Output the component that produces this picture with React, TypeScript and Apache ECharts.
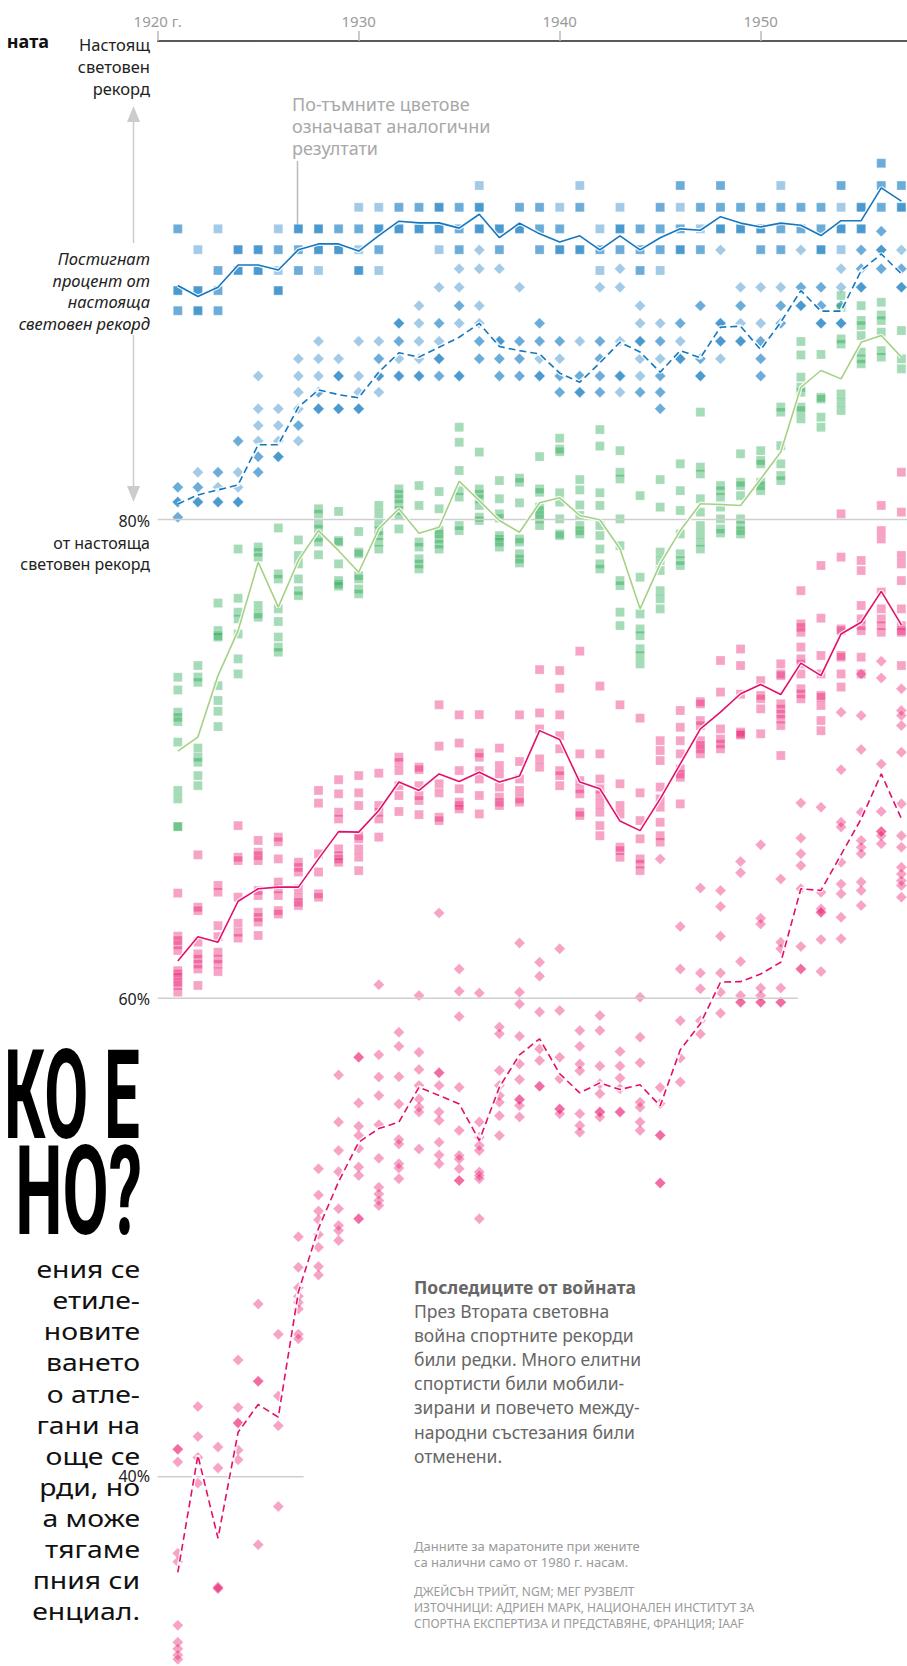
import React, { useEffect, useRef } from "react";
import * as echarts from "echarts";

const years = [1921, 1922, 1923, 1924, 1925, 1926, 1927, 1928, 1929, 1930, 1931, 1932, 1933, 1934, 1935, 1936, 1937, 1938, 1939, 1940, 1941, 1942, 1943, 1944, 1945, 1946, 1947, 1948, 1949, 1950, 1951, 1952, 1953, 1954, 1955, 1956, 1957];
const xTicks = [1920, 1930, 1940, 1950];

// % of current world record, lines (yearly average)
const blueSolidLine = [89.78, 89.32, 89.71, 90.64, 90.64, 90.43, 91.28, 91.52, 91.52, 91.22, 91.87, 92.47, 92.4, 92.4, 92.18, 92.76, 91.78, 92.39, 91.94, 91.6, 91.86, 91.27, 91.86, 91.27, 91.78, 92.15, 92.09, 92.66, 92.39, 92.23, 92.39, 92.3, 91.87, 92.49, 92.49, 93.86, 93.31];
const blueDashedLine = [80.65, 81.03, 81.24, 81.45, 83.13, 83.13, 84.7, 85.42, 85.22, 85.09, 86.16, 86.97, 86.79, 87.2, 87.62, 88.2, 87.23, 87.06, 86.92, 86.12, 85.74, 86.55, 87.41, 87.0, 86.16, 87.06, 86.76, 88.04, 88.08, 87.1, 88.25, 89.57, 88.71, 88.71, 90.41, 91.1, 90.27];
const greenLine = [70.32, 70.91, 73.48, 75.36, 78.22, 76.34, 78.29, 79.54, 78.7, 77.8, 79.61, 80.45, 79.43, 79.68, 81.6, 80.79, 79.96, 79.47, 80.7, 80.91, 80.17, 79.99, 78.78, 76.27, 78.15, 79.54, 80.66, 80.63, 80.59, 81.7, 82.82, 85.53, 86.23, 85.88, 87.41, 87.69, 86.79];
const pinkSolidLine = [61.55, 62.57, 62.34, 64.05, 64.57, 64.64, 64.64, 65.82, 66.96, 66.94, 67.84, 69.03, 68.68, 69.37, 69.05, 69.44, 69.03, 69.28, 71.18, 70.81, 69.03, 68.75, 67.4, 67.0, 68.33, 69.79, 71.25, 71.95, 72.72, 73.11, 72.69, 74.0, 73.48, 75.22, 75.71, 77.0, 75.6];
const pinkDashedLine = [36.0, 40.89, 37.43, 41.86, 43.02, 42.49, 47.72, 50.38, 52.33, 53.98, 54.55, 54.82, 56.28, 55.93, 55.58, 54.05, 56.28, 57.63, 58.3, 56.84, 56.04, 56.46, 56.18, 56.38, 55.5, 57.84, 58.93, 60.67, 60.69, 61.01, 61.5, 64.57, 64.5, 66.0, 67.49, 69.37, 67.5];

// individual results per year (repeated values = overlapping marks)
const blueSquares = [
  [92.15, 92.15, 89.57, 89.57, 89.57, 88.73, 88.73],
  [91.28, 89.57, 89.57, 89.57, 88.73, 88.73, 88.73],
  [92.15, 90.41, 90.41, 89.57, 89.57, 88.73, 88.73],
  [91.28, 91.28, 91.28, 90.41, 90.41, 90.41],
  [91.28, 91.28, 91.28, 90.41, 90.41, 90.41],
  [92.15, 91.28, 91.28, 90.41, 89.57, 89.57, 89.57],
  [92.15, 92.15, 92.15, 91.28, 91.28, 90.41, 90.41],
  [92.15, 92.15, 92.15, 91.28, 91.28, 91.28, 90.41],
  [92.15, 92.15, 91.28, 91.28, 91.28],
  [93.05, 92.15, 92.15, 91.28, 90.41, 90.41, 90.41],
  [93.05, 92.15, 92.15, 92.15, 91.28, 91.28, 90.41],
  [93.05, 93.05, 92.15, 92.15, 92.15],
  [93.05, 93.05, 92.15, 92.15, 92.15],
  [93.05, 93.05, 93.05, 92.15, 92.15, 92.15, 91.28],
  [93.05, 93.05, 92.15, 92.15, 91.28, 91.28],
  [93.96, 93.05, 93.05, 93.05, 92.15, 92.15, 92.15],
  [92.15, 92.15, 92.15, 91.28, 91.28],
  [93.05, 93.05, 92.15, 92.15, 92.15],
  [93.05, 93.05, 92.15, 92.15, 91.28, 91.28],
  [93.05, 92.15, 92.15, 91.28, 91.28, 91.28],
  [93.96, 93.05, 93.05, 91.28, 91.28, 91.28],
  [92.15, 91.28, 91.28, 90.41],
  [93.05, 92.15, 92.15, 92.15, 91.28, 91.28],
  [92.15, 92.15, 91.28, 91.28, 90.41, 90.41],
  [93.05, 93.05, 92.15, 92.15, 91.28, 91.28, 90.41],
  [93.96, 93.96, 93.05, 92.15, 92.15, 91.28, 91.28, 91.28],
  [93.05, 93.05, 92.15, 91.28, 91.28],
  [93.96, 93.96, 93.05, 93.05, 92.15, 92.15, 92.15],
  [93.05, 93.05, 92.15, 92.15, 92.15],
  [93.05, 93.05, 92.15, 92.15, 92.15, 91.28, 91.28],
  [93.96, 93.05, 93.05, 92.15, 92.15, 91.28, 91.28],
  [93.05, 93.05, 92.15, 92.15],
  [93.05, 93.05, 92.15, 92.15, 91.28, 91.28, 91.28],
  [93.96, 93.96, 93.05, 92.15, 92.15, 92.15, 91.28],
  [93.05, 93.05, 93.05, 92.15, 92.15, 92.15],
  [94.89, 94.89, 93.96, 93.96, 93.05, 93.05],
  [93.96, 93.96, 93.05, 93.05, 93.05],
];

const blueDiamonds = [
  [81.35, 81.35, 80.73, 80.73, 80.73, 80.1, 80.1],
  [81.98, 81.35, 81.35, 80.73, 80.73, 80.73],
  [81.98, 81.98, 81.35, 80.73, 80.73, 80.73],
  [83.28, 83.28, 81.98, 81.35, 80.73, 80.73, 80.73],
  [86.0, 84.63, 83.93, 83.28, 82.63, 82.63, 81.98, 81.98],
  [84.63, 83.93, 83.28, 82.63, 82.63, 82.63],
  [86.72, 86.0, 85.32, 84.63, 83.93, 83.93, 83.28],
  [87.45, 86.72, 86.0, 85.32, 85.32, 84.63, 84.63, 84.63],
  [86.72, 86.0, 86.0, 86.0, 84.63, 84.63, 84.63],
  [87.45, 86.0, 85.32, 84.63, 84.63, 84.63],
  [87.45, 86.72, 86.72, 86.0, 86.0, 86.0, 85.32],
  [88.2, 88.2, 88.2, 87.45, 87.45, 86.72, 86.0, 86.0, 86.0],
  [88.94, 88.2, 87.45, 86.72, 86.0, 86.0, 86.0],
  [89.71, 88.2, 88.2, 87.45, 86.72, 86.72, 86.72, 86.0, 86.0],
  [90.48, 89.71, 88.94, 88.94, 88.2, 86.0, 86.0, 86.0],
  [91.27, 90.48, 88.94, 88.2, 87.45, 87.45, 86.72, 86.72],
  [90.48, 87.45, 87.45, 87.45, 86.72, 86.72, 86.0, 86.0],
  [89.71, 87.45, 87.45, 86.72, 86.72, 86.0, 86.0],
  [88.2, 88.2, 87.45, 87.45, 86.72, 86.0, 86.0, 86.0],
  [87.45, 87.45, 86.72, 86.0, 86.0, 85.32, 85.32],
  [87.45, 86.0, 86.0, 85.32, 85.32, 85.32],
  [89.71, 87.45, 87.45, 86.72, 86.72, 86.0, 86.0, 85.32, 85.32],
  [90.48, 89.71, 87.45, 86.0, 86.0, 86.0, 85.32],
  [88.94, 88.2, 87.45, 87.45, 87.45, 86.72, 86.0, 85.32, 85.32],
  [88.2, 87.45, 87.45, 86.72, 86.0, 86.0, 85.32, 85.32, 84.63, 84.63],
  [88.2, 88.2, 87.45, 86.72, 86.72, 86.72],
  [88.94, 88.94, 86.72, 86.72, 86.0, 86.0, 86.0],
  [91.27, 88.2, 88.2, 88.2, 87.45, 87.45, 87.45, 86.72],
  [89.71, 88.94, 88.94, 88.2, 87.45, 87.45, 87.45],
  [89.71, 88.2, 87.45, 87.45, 86.72, 86.72, 86.0, 86.0],
  [89.71, 88.94, 88.94, 88.2, 88.2],
  [91.27, 89.71, 89.71, 88.94, 88.94, 88.94],
  [89.71, 89.71, 88.94, 88.94, 88.2, 88.2, 88.2],
  [90.48, 89.71, 88.94, 88.94, 88.2, 88.2, 88.2],
  [91.27, 91.27, 90.48, 90.48, 89.71, 89.71, 89.71],
  [92.05, 92.05, 91.27, 91.27, 91.27, 90.48, 90.48],
  [91.27, 90.48, 90.48, 89.71, 89.71, 89.71],
];

const greenSquares = [
  [73.41, 72.88, 71.95, 71.74, 71.56, 70.7, 68.68, 68.33, 67.17, 67.17],
  [73.9, 73.42, 73.2, 70.45, 70.07, 69.86, 69.3, 68.88],
  [76.51, 75.36, 75.15, 75.09, 73.06, 72.44, 71.99, 71.35],
  [78.77, 76.71, 76.13, 75.85, 75.22, 74.18, 73.55],
  [78.85, 78.64, 78.43, 76.41, 76.06, 75.92],
  [79.65, 77.73, 77.52, 76.27, 75.74, 75.09, 74.67, 74.46],
  [79.15, 78.5, 78.15, 77.52, 77.03, 76.82],
  [80.45, 80.24, 79.82, 79.61, 79.26, 79.06, 78.53],
  [80.34, 79.12, 79.06, 78.15, 77.45, 77.31, 77.22],
  [79.5, 78.64, 78.57, 77.66, 77.52, 77.1, 76.9],
  [80.59, 80.24, 79.82, 79.54, 79.33, 79.06, 78.77],
  [81.28, 81.07, 80.87, 80.66, 80.38, 80.17, 79.61],
  [81.42, 80.59, 79.06, 78.85, 78.36, 78.15, 77.94],
  [81.17, 80.45, 79.54, 79.4, 79.19, 78.98, 78.77],
  [83.86, 83.23, 82.05, 81.21, 80.94, 79.75, 79.54],
  [82.82, 81.28, 81.07, 80.87, 80.59, 80.1, 79.96],
  [81.63, 80.87, 80.24, 80.06, 79.33, 79.19, 79.06, 78.85],
  [81.73, 81.56, 80.7, 79.19, 79.06, 78.57, 78.36, 78.19],
  [82.63, 81.28, 81.14, 80.52, 80.38, 80.17, 80.03, 79.75],
  [83.4, 82.95, 82.84, 81.12, 80.73, 80.03, 79.4, 79.33],
  [81.67, 81.24, 80.61, 80.17, 79.75, 79.54, 79.4],
  [83.76, 83.07, 81.12, 80.59, 79.75, 79.33, 78.77, 78.15, 77.94],
  [82.88, 81.98, 81.7, 80.03, 78.91, 77.45, 77.24, 76.13, 75.57],
  [81.0, 77.59, 76.06, 75.43, 75.15, 74.6, 74.32, 73.97],
  [81.67, 80.52, 78.64, 78.29, 77.87, 77.03, 76.69, 76.27],
  [82.33, 81.21, 80.38, 79.4, 78.57, 78.29, 78.08],
  [84.49, 82.19, 81.91, 80.87, 80.31, 79.75, 79.4, 79.06, 78.77],
  [81.42, 81.21, 80.94, 80.52, 80.03, 79.61, 79.44],
  [82.75, 81.56, 81.42, 81.0, 80.03, 79.75, 79.54, 79.4],
  [82.88, 82.47, 82.33, 81.56, 81.42, 81.21],
  [84.7, 84.49, 83.09, 82.33, 81.84, 81.63],
  [87.44, 86.88, 85.95, 85.53, 85.32, 84.7, 84.56, 84.21],
  [86.9, 85.11, 85.04, 84.28, 83.86],
  [89.36, 88.87, 87.55, 87.34, 85.25, 84.91, 84.56],
  [88.94, 88.32, 88.11, 87.69, 87.0, 86.72, 86.51],
  [89.08, 88.55, 88.32, 87.83, 87.06, 86.79],
  [87.9, 86.72, 86.3],
];

const pinkSquares = [
  [64.39, 62.59, 62.41, 62.23, 61.99, 61.15, 61.02, 60.88, 60.67, 60.53, 60.25],
  [65.99, 63.8, 63.66, 62.34, 61.85, 61.64, 61.43, 61.22, 60.53],
  [64.71, 64.43, 63.03, 62.57, 61.92, 61.64, 61.43, 61.11],
  [67.21, 65.89, 65.75, 64.22, 63.13, 62.76, 62.51],
  [66.59, 66.1, 65.96, 65.75, 64.5, 64.29, 63.59, 63.38, 63.18, 62.62],
  [66.73, 66.54, 65.82, 64.85, 64.57, 64.29, 63.66, 63.52],
  [65.68, 65.47, 65.27, 64.57, 64.22, 64.01, 63.87],
  [68.68, 68.15, 66.03, 65.27, 64.36, 64.22],
  [69.13, 68.54, 67.77, 67.49, 66.24, 65.96, 65.82, 65.68],
  [69.3, 68.58, 68.05, 66.79, 66.66, 66.24, 65.89, 65.33],
  [69.4, 68.05, 67.77, 67.49, 66.73],
  [70.07, 69.86, 69.51, 68.88, 68.47, 67.8],
  [69.65, 69.55, 68.88, 68.47, 68.26, 67.67],
  [72.26, 70.53, 68.96, 68.58, 67.56, 67.42],
  [71.84, 70.66, 69.51, 68.75, 68.19, 68.05, 67.91],
  [71.85, 70.25, 70.07, 69.51, 69.16, 68.47, 67.7],
  [70.45, 69.72, 69.37, 68.82, 68.4, 68.19, 68.05],
  [71.84, 69.89, 69.16, 68.68, 68.33, 68.19],
  [73.73, 71.92, 71.25, 70.0, 69.65],
  [73.69, 72.95, 71.84, 70.97, 70.42, 69.51, 69.3, 68.88],
  [74.5, 70.21, 69.09, 68.75, 68.54, 67.77, 67.63],
  [73.04, 70.21, 69.16, 68.75, 68.47, 68.12, 67.77, 67.21, 66.79],
  [72.26, 68.96, 68.05, 67.7, 66.31, 66.17, 65.89],
  [71.7, 68.58, 67.42, 66.66, 65.82, 65.61, 65.33],
  [70.76, 70.35, 69.93, 68.82, 68.33, 67.98, 67.35, 66.79, 66.52],
  [72.02, 71.32, 70.76, 70.21, 69.58, 69.37, 69.23, 68.12],
  [72.39, 72.3, 71.6, 71.39, 70.76, 70.56, 70.42, 70.21],
  [74.11, 72.79, 71.25, 70.83, 70.63, 70.42],
  [74.59, 73.9, 72.7, 71.12, 71.05, 71.0],
  [73.27, 72.65, 72.51, 72.09, 71.05],
  [73.97, 73.55, 73.48, 72.3, 72.09, 71.88, 71.67, 71.39, 70.14],
  [77.03, 75.64, 75.5, 75.29, 74.67, 74.18, 73.97, 73.55, 72.93, 72.72, 72.51],
  [78.08, 75.88, 74.32, 73.55, 72.65, 72.58, 72.23, 71.6, 71.18],
  [80.24, 78.43, 75.43, 75.36, 74.32, 74.25, 73.55, 73.0],
  [78.29, 77.87, 76.41, 75.85, 75.57, 75.36, 74.25, 73.55],
  [80.59, 79.54, 79.19, 76.97, 76.27, 75.85, 75.57, 75.29],
  [81.98, 80.31, 78.5, 78.15, 77.45, 76.27, 75.57, 75.36, 75.29, 73.9],
];

const pinkDiamonds = [
  [41.15, 41.15, 40.62, 36.8, 36.45, 33.79, 33.08, 32.81, 32.55, 32.37],
  [42.93, 41.68, 40.8, 39.73],
  [41.24, 40.36, 35.39, 35.32, 35.35],
  [44.88, 42.89, 42.25, 42.25, 41.12, 40.71],
  [47.22, 43.99, 43.99, 37.16],
  [45.95, 43.37, 42.13, 38.76],
  [50.03, 48.75, 47.9, 47.54, 47.28, 47.01, 45.95, 45.77],
  [52.87, 51.77, 51.1, 50.74, 50.12, 49.59, 48.79, 48.43],
  [56.79, 54.82, 53.63, 52.75, 51.2, 50.5, 50.29, 49.87],
  [57.53, 57.53, 55.62, 54.65, 54.26, 53.73, 52.94, 52.59, 50.78, 50.78],
  [60.56, 57.63, 56.7, 55.93, 54.71, 53.31, 52.1, 51.82, 51.54, 51.33],
  [58.58, 57.99, 56.72, 55.58, 54.09, 53.91, 53.08, 52.9, 52.45],
  [60.11, 57.74, 57.02, 56.35, 55.79, 55.44, 55.24, 53.7],
  [63.56, 56.88, 56.88, 56.35, 55.24, 54.89, 53.98, 53.45, 53.08],
  [61.22, 60.29, 59.23, 56.28, 54.47, 53.42, 53.28, 52.87, 52.38, 52.38],
  [60.21, 54.82, 54.19, 53.84, 53.63, 52.73, 52.59, 52.45, 50.78],
  [58.79, 58.51, 56.98, 56.35, 55.93, 55.65, 55.09, 54.26],
  [62.3, 60.25, 59.76, 58.41, 57.25, 56.6, 55.76, 55.76, 55.51, 55.03],
  [61.5, 60.92, 59.42, 57.88, 57.39, 56.32, 56.32],
  [62.06, 59.48, 57.53, 56.63, 55.37, 55.37, 55.17],
  [58.65, 57.99, 57.25, 56.97, 55.17, 54.68, 54.4],
  [59.27, 58.65, 57.16, 56.42, 56.0, 55.24, 55.24, 55.03],
  [57.77, 57.16, 56.66, 56.21, 55.24, 55.24],
  [60.04, 58.37, 57.3, 55.65, 55.44, 54.82, 54.47],
  [65.82, 56.27, 55.6, 54.27, 54.27, 52.27, 52.27],
  [62.99, 61.22, 59.06, 57.5, 56.5],
  [64.6, 61.05, 60.39, 59.06, 58.5],
  [64.5, 63.83, 62.59, 61.05, 60.25, 59.37],
  [65.71, 65.24, 61.53, 60.11, 59.83, 59.83],
  [66.41, 63.34, 63.1, 60.42, 60.11, 59.83, 59.83],
  [64.98, 62.34, 62.06, 60.42, 59.83, 59.83],
  [68.16, 66.69, 66.03, 65.54, 64.57, 62.16, 61.22, 61.22],
  [67.98, 64.43, 63.73, 63.59, 63.59, 62.45, 61.11],
  [71.95, 69.55, 67.35, 67.15, 65.68, 64.77, 64.36, 63.38, 62.48],
  [73.55, 71.81, 70.39, 67.77, 66.59, 66.31, 66.03, 64.85, 64.5, 63.87],
  [74.08, 73.38, 69.79, 67.8, 66.96, 66.96, 66.79, 66.45],
  [72.93, 72.02, 71.81, 71.39, 70.28, 68.12, 66.79, 66.31, 65.47, 65.19, 64.91, 64.71, 64.22],
];

// reference lines: [value, last year reached]
const refLines = [
  [80, 1957.28],
  [60, 1951.86],
  [40, 1927.26],
];

const X_MIN = 1920;
const X_MAX = 1957.28;
const Y_MIN = 32.09;
const Y_MAX = 100;

const FONT = '"Noto Sans", "Open Sans", sans-serif';

const toPts = (rows: number[][]) => {
  const out: number[][] = [];
  rows.forEach((vals, i) => vals.forEach((v) => out.push([years[i], v])));
  return out;
};
const toLine = (vals: number[]) => vals.map((v, i) => [years[i], v]);

function t(x: number, y: number, text: string, o: any = {}) {
  const align = o.align || "right";
  return {
    type: "text",
    x,
    y,
    scaleX: o.scaleX || 1,
    silent: true,
    style: {
      text,
      fill: o.fill || "#222",
      fontSize: o.size || 16,
      fontFamily: o.family || FONT,
      fontWeight: o.weight || "normal",
      fontStyle: o.italic ? "italic" : "normal",
      align,
      textAlign: align,
      verticalAlign: "middle",
      textVerticalAlign: "middle",
    },
  };
}

export default function App() {
  const ref = useRef<HTMLDivElement>(null);
  useEffect(() => {
    if (!ref.current) return;
    const chart = echarts.init(ref.current, null, { renderer: "svg" });

    const scatter = (rows: number[][], symbol: string, size: number, color: string) => ({
      type: "scatter",
      data: toPts(rows),
      symbol,
      symbolSize: size,
      silent: true,
      itemStyle: { color, opacity: 0.4, borderColor: "#ffffff", borderWidth: 0.6 },
    });
    const halo = (vals: number[]) => ({
      type: "line",
      data: toLine(vals),
      symbol: "none",
      silent: true,
      lineStyle: { color: "#ffffff", width: 4, opacity: 0.85 },
    });
    const line = (vals: number[], color: string, dashed: boolean, width = 1.6) => ({
      type: "line",
      data: toLine(vals),
      symbol: "none",
      silent: true,
      lineStyle: { color, width, type: dashed ? [7, 4] : "solid" },
    });

    const gridSeries = refLines.map(([v, end]) => ({
      type: "line",
      data: [
        [X_MIN, v],
        [end, v],
      ],
      symbol: "none",
      silent: true,
      lineStyle: { color: "#cfcfcf", width: 1.5 },
    }));

    const graphic: any[] = [
      t(49, 41, "ната", { weight: "bold", size: 18, fill: "#111" }),
      t(150, 44, "Настоящ", { size: 16.5 }),
      t(150, 66, "световен", { size: 16.5 }),
      t(150, 88, "рекорд", { size: 16.5 }),
      t(150, 258, "Постигнат", { size: 16.5, italic: true }),
      t(150, 280, "процент от", { size: 16.5, italic: true }),
      t(150, 301, "настояща", { size: 16.5, italic: true }),
      t(150, 323, "световен рекорд", { size: 16.5, italic: true }),
      t(150, 521, "80%", { size: 16 }),
      t(150, 543, "от настояща", { size: 16 }),
      t(150, 564, "световен рекорд", { size: 16 }),
      t(150, 999, "60%", { size: 16 }),
      t(150, 1476, "40%", { size: 16 }),
      // arrow
      { type: "line", silent: true, shape: { x1: 133.5, y1: 118, x2: 133.5, y2: 243 }, style: { stroke: "#cccccc", lineWidth: 1.5 } },
      { type: "line", silent: true, shape: { x1: 133.5, y1: 335, x2: 133.5, y2: 490 }, style: { stroke: "#cccccc", lineWidth: 1.5 } },
      { type: "polygon", silent: true, shape: { points: [[133.5, 106], [127, 122], [140, 122]] }, style: { fill: "#cccccc" } },
      { type: "polygon", silent: true, shape: { points: [[133.5, 502], [127, 486], [140, 486]] }, style: { fill: "#cccccc" } },
      // darker colours note
      t(292, 104, "По-тъмните цветове", { align: "left", size: 18, fill: "#a8a8a8" }),
      t(292, 126, "означават аналогични", { align: "left", size: 18, fill: "#a8a8a8" }),
      t(292, 148, "резултати", { align: "left", size: 18, fill: "#a8a8a8" }),
      { type: "line", silent: true, shape: { x1: 297.5, y1: 161, x2: 297.5, y2: 226 }, style: { stroke: "#bbbbbb", lineWidth: 1.5 } },
      // big title fragments
      t(140, 1096, "КО Е", { size: 124, weight: "bold", family: "Roboto, sans-serif", scaleX: 0.515, fill: "#000" }),
      t(142, 1192, "НО?", { size: 124, weight: "bold", family: "Roboto, sans-serif", scaleX: 0.54, fill: "#000" }),
    ];
    const body = ["ения се", "етиле-", "новите", "ването", "о атле-", "гани на", "още се", "рди, но", "а може", "тягаме", "пния си", "енциал."];
    body.forEach((s, i) => graphic.push(t(140, 1269 + i * 31.1, s, { size: 24, scaleX: 1.18, fill: "#111" })));
    const LX = 414;
    graphic.push(t(LX, 1287, "Последиците от войната", { align: "left", size: 17.5, weight: "bold", fill: "#666" }));
    const war = ["През Втората световна", "война спортните рекорди", "били редки. Много елитни", "спортисти били мобили-", "зирани и повечето между-", "народни състезания били", "отменени."];
    war.forEach((s, i) => graphic.push(t(LX, 1311 + i * 24.1, s, { align: "left", size: 17.5, fill: "#666" })));
    graphic.push(t(LX, 1546, "Данните за маратоните при жените", { align: "left", size: 13, fill: "#9a9a9a" }));
    graphic.push(t(LX, 1562, "са налични само от 1980 г. насам.", { align: "left", size: 13, fill: "#9a9a9a" }));
    const credits = ["ДЖЕЙСЪН ТРИЙТ, NGM; МЕГ РУЗВЕЛТ", "ИЗТОЧНИЦИ: АДРИЕН МАРК, НАЦИОНАЛЕН ИНСТИТУТ ЗА", "СПОРТНА ЕКСПЕРТИЗА И ПРЕДСТАВЯНЕ, ФРАНЦИЯ; IAAF"];
    credits.forEach((s, i) => graphic.push(t(LX, 1591 + i * 16.3, s, { align: "left", size: 12, fill: "#9a9a9a" })));

    chart.setOption({
      animation: false,
      grid: { left: 157.7, right: 0, top: 41, bottom: 0, containLabel: false },
      xAxis: {
        type: "value",
        position: "top",
        min: X_MIN,
        max: X_MAX,
        interval: 10,
        splitLine: { show: false },
        axisLine: { show: true, lineStyle: { color: "#222", width: 1.5 } },
        axisTick: { show: true, length: 10, lineStyle: { color: "#bbbbbb", width: 1.5 } },
        axisLabel: {
          show: true,
          margin: 13,
          color: "#9a9a9a",
          fontSize: 15,
          fontFamily: FONT,
          showMaxLabel: false,
          formatter: (v: number) => (xTicks.indexOf(v) < 0 ? "" : v === 1920 ? "1920 г." : String(v)),
        },
      },
      yAxis: { type: "value", min: Y_MIN, max: Y_MAX, show: false, splitLine: { show: false } },
      graphic,
      series: [
        ...gridSeries,
        scatter(blueSquares, "rect", 9, "#1a7cc2"),
        scatter(blueDiamonds, "diamond", 11, "#1a7cc2"),
        scatter(greenSquares, "rect", 9, "#1fa64a"),
        scatter(pinkSquares, "rect", 9, "#e8196e"),
        scatter(pinkDiamonds, "diamond", 11, "#e8196e"),
        halo(blueSolidLine),
        line(blueSolidLine, "#1577bf", false),
        halo(blueDashedLine),
        line(blueDashedLine, "#1577bf", true),
        halo(greenLine),
        line(greenLine, "#a5d185", false),
        halo(pinkSolidLine),
        line(pinkSolidLine, "#e2106a", false),
        halo(pinkDashedLine),
        line(pinkDashedLine, "#e2106a", true),
      ],
    });
    return () => chart.dispose();
  }, []);
  return (
    <div
      ref={ref}
      lang="bg"
      style={{ position: "absolute", left: 0, top: 0, width: 907, height: 1666, background: "#fff" }}
    />
  );
}
